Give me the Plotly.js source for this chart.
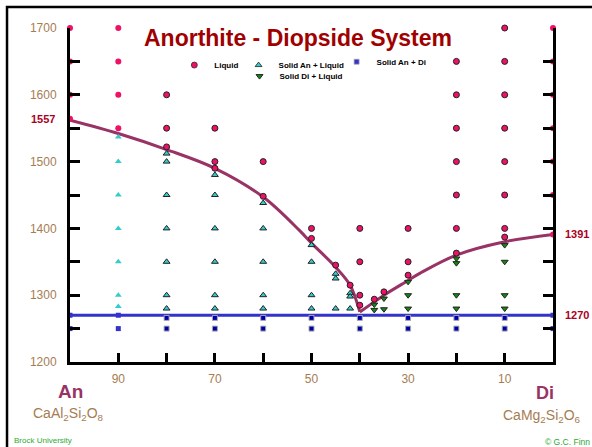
<!DOCTYPE html>
<html>
<head>
<meta charset="utf-8">
<script src="https://cdn.plot.ly/plotly-3.0.1.min.js"></script>
<style>html,body{margin:0;padding:0;background:#fff;}#chart{width:592px;height:447px;}</style>
</head>
<body>
<div id="chart"></div>
<script>
// ---- Data (wt% An, temperature °C) ----
var liquidX = [100,100,100,100, 90,90,90,90, 80,80,80, 70,70,70, 60,60, 50,50, 45, 42, 40,40,40,40, 37, 35, 30,30,30,
               20,20,20,20,20,20,20, 10,10,10,10,10,10,10,10, 0,0,0,0,0,0,0];
var liquidT = [1700,1650,1600,1564, 1700,1650,1600,1550, 1600,1550,1522, 1550,1500,1490, 1500,1448, 1400,1385, 1345, 1315, 1400,1350,1300,1285, 1294, 1305, 1400,1350,1330,
               1650,1600,1550,1500,1450,1400,1363, 1700,1650,1600,1550,1500,1450,1400,1387, 1700,1650,1600,1550,1500,1450,1391];

var anLiqX = [90,90,90,90,90,90,90, 80,80,80,80,80,80,80, 70,70,70,70,70,70, 60,60,60,60,60, 50,50,50,50, 45,45,45, 42,42,42];
var anLiqT = [1537,1500,1450,1400,1350,1300,1283, 1512,1500,1450,1400,1350,1300,1280, 1480,1450,1400,1350,1300,1280,
              1438,1400,1350,1300,1280, 1375,1350,1300,1280, 1332,1325,1280, 1303,1298,1280];

var diLiqX = [37,37, 35,35, 30,30,30, 20,20,20,20, 10,10,10,10];
var diLiqT = [1286,1278, 1295,1279, 1320,1300,1280, 1355,1348,1300,1280, 1375,1350,1300,1280];

var anDiX = [100,100, 90,90, 80,80, 70,70, 60,60, 50,50, 40,40, 30,30, 20,20, 10,10, 0,0];
var anDiT = [1270,1250, 1270,1250, 1266,1250, 1266,1250, 1266,1250, 1266,1250, 1266,1250, 1266,1250, 1266,1250, 1266,1250, 1270,1250];

// liquidus curves
var anLiquidusX = [100, 90, 80, 70, 60, 52.5, 50, 45, 42, 40];
var anLiquidusT = [1562, 1542, 1518, 1490, 1447, 1397, 1378, 1342, 1315, 1275];
var diLiquidusX = [40, 37, 35, 30, 27.5, 20, 10, 0];
var diLiquidusT = [1275, 1290, 1300, 1322, 1333, 1360, 1380, 1391];
// solidus
var solidusX = [100, 0];
var solidusT = [1270, 1270];

var xTickVals = [90, 70, 50, 30, 10];
var xMinorVals = [80, 60, 40, 20];
var yTickVals = [1200, 1300, 1400, 1500, 1600, 1700];

// ---- style helpers ----
function edge(x){ return x >= 90 || x <= 0; }
function lw(xs){ return xs.map(function(x){ return edge(x) ? 0 : 1; }); }

var TAN = '#a67c52';
var FONT = 'Liberation Sans, Arial, sans-serif';

var traces = [
  {x: anLiquidusX, y: anLiquidusT, mode: 'lines', line: {color: '#993366', width: 3, shape: 'spline'}, showlegend: false, hoverinfo: 'skip'},
  {x: diLiquidusX, y: diLiquidusT, mode: 'lines', line: {color: '#993366', width: 3, shape: 'spline'}, showlegend: false, hoverinfo: 'skip'},
  {x: solidusX, y: solidusT, mode: 'lines', line: {color: '#3333cc', width: 3}, showlegend: false, hoverinfo: 'skip', cliponaxis: false},
  {x: liquidX, y: liquidT, mode: 'markers', name: 'Liquid', legend: 'legend', cliponaxis: false,
   marker: {symbol: 'circle', size: 6, color: '#ee1166', line: {color: '#222', width: lw(liquidX)}}},
  {x: anLiqX, y: anLiqT, mode: 'markers', name: 'Solid An + Liquid', legend: 'legend2', cliponaxis: false,
   marker: {symbol: 'triangle-up', size: 6, color: '#33cccc', line: {color: '#222', width: lw(anLiqX)}}},
  {x: diLiqX, y: diLiqT, mode: 'markers', name: 'Solid Di + Liquid', legend: 'legend3', cliponaxis: false,
   marker: {symbol: 'triangle-down', size: 6, color: '#118811', line: {color: '#222', width: lw(diLiqX)}}},
  {x: anDiX, y: anDiT, mode: 'markers', name: 'Solid An + Di', legend: 'legend4', cliponaxis: false,
   marker: {symbol: 'square', size: 5, color: anDiX.map(function(x){return edge(x) ? '#3333cc' : '#0000aa';}),
            line: {color: '#aaaaaa', width: lw(anDiX)}}}
];

function leg(x, y){
  return {x: x, y: y, xanchor: 'left', yanchor: 'middle', orientation: 'h', bgcolor: 'rgba(0,0,0,0)',
          font: {family: FONT, size: 8, color: '#000', weight: 'bold'}, itemwidth: 30};
}

var layout = {
  width: 592, height: 447,
  margin: {l: 70, r: 39, t: 28, b: 85},
  paper_bgcolor: '#fff', plot_bgcolor: '#fff',
  font: {family: FONT},
  xaxis: {range: [100, 0], showgrid: false, zeroline: false, showline: true, linecolor: '#000', linewidth: 3,
          ticks: 'inside', ticklen: 9, tickwidth: 3, tickcolor: '#000',
          tickvals: xTickVals, tickfont: {family: FONT, size: 12, color: TAN}, ticklabelstandoff: 4,
          minor: {tickvals: xMinorVals, ticks: 'inside', ticklen: 9, tickwidth: 3, tickcolor: '#000', showgrid: false}},
  yaxis: {range: [1200, 1700], showgrid: false, zeroline: false, showline: true, mirror: 'ticks', linecolor: '#000', linewidth: 3,
          ticks: 'inside', ticklen: 10, tickwidth: 3, tickcolor: '#000',
          tickvals: yTickVals, tickfont: {family: FONT, size: 12, color: TAN}, ticklabelstandoff: 8,
          minor: {dtick: 50, ticks: 'inside', ticklen: 10, tickwidth: 3, tickcolor: '#000', showgrid: false}},
  legend: leg(0.216, 0.889),
  legend2: leg(0.349, 0.889),
  legend3: leg(0.351, 0.856),
  legend4: leg(0.552, 0.899),
  shapes: [
    {type: 'rect', xref: 'paper', yref: 'paper', x0: -0.1304, x1: 1.3, y0: -0.5, y1: 1.063,
     line: {color: '#000', width: 2.5}, fillcolor: 'rgba(0,0,0,0)', layer: 'below'}
  ],
  annotations: [
    {text: 'Anorthite - Diopside System', xref: 'paper', yref: 'paper', x: 0.472, y: 0.971, xanchor: 'center', yanchor: 'middle',
     showarrow: false, font: {family: FONT, size: 23, color: '#a00000', weight: 'bold'}},
    {text: '1557', xref: 'paper', yref: 'y', x: -0.027, y: 1564, xanchor: 'right', yanchor: 'middle', showarrow: false,
     font: {family: FONT, size: 11, color: '#aa0022', weight: 'bold'}},
    {text: '1391', xref: 'paper', yref: 'y', x: 1.02, y: 1391, xanchor: 'left', yanchor: 'middle', showarrow: false,
     font: {family: FONT, size: 11, color: '#aa0022', weight: 'bold'}},
    {text: '1270', xref: 'paper', yref: 'y', x: 1.02, y: 1270, xanchor: 'left', yanchor: 'middle', showarrow: false,
     font: {family: FONT, size: 11, color: '#aa0022', weight: 'bold'}},
    {text: 'An', xref: 'paper', yref: 'paper', x: 0.002, y: -0.088, xanchor: 'center', yanchor: 'middle', showarrow: false,
     font: {family: FONT, size: 19, color: '#993366', weight: 'bold'}},
    {text: 'Di', xref: 'paper', yref: 'paper', x: 0.983, y: -0.094, xanchor: 'center', yanchor: 'middle', showarrow: false,
     font: {family: FONT, size: 18, color: '#993366', weight: 'bold'}},
    {text: 'CaAl<sub>2</sub>Si<sub>2</sub>O<sub>8</sub>', xref: 'paper', yref: 'paper', x: -0.004, y: -0.157, xanchor: 'center', yanchor: 'middle',
     showarrow: false, font: {family: FONT, size: 14, color: TAN}},
    {text: 'CaMg<sub>2</sub>Si<sub>2</sub>O<sub>6</sub>', xref: 'paper', yref: 'paper', x: 0.9766, y: -0.163, xanchor: 'center', yanchor: 'middle',
     showarrow: false, font: {family: FONT, size: 14, color: TAN}},
    {text: 'Brock University', xref: 'paper', yref: 'paper', x: -0.12, y: -0.236, xanchor: 'left', yanchor: 'middle',
     showarrow: false, font: {family: FONT, size: 8, color: '#2eaa2e'}},
    {text: '© G.C. Finn', xref: 'paper', yref: 'paper', x: 1.08, y: -0.24, xanchor: 'right', yanchor: 'middle',
     showarrow: false, font: {family: FONT, size: 8.5, color: '#2eaa2e'}}
  ]
};

Plotly.newPlot('chart', traces, layout, {displayModeBar: false, staticPlot: true}).then(function(gd){
  // drop empty placeholder text nodes (unused titles) that Plotly leaves in the SVG
  gd.querySelectorAll('text').forEach(function(t){
    if (!t.textContent || !t.textContent.trim()) t.parentNode.removeChild(t);
  });
});
</script>
</body>
</html>
